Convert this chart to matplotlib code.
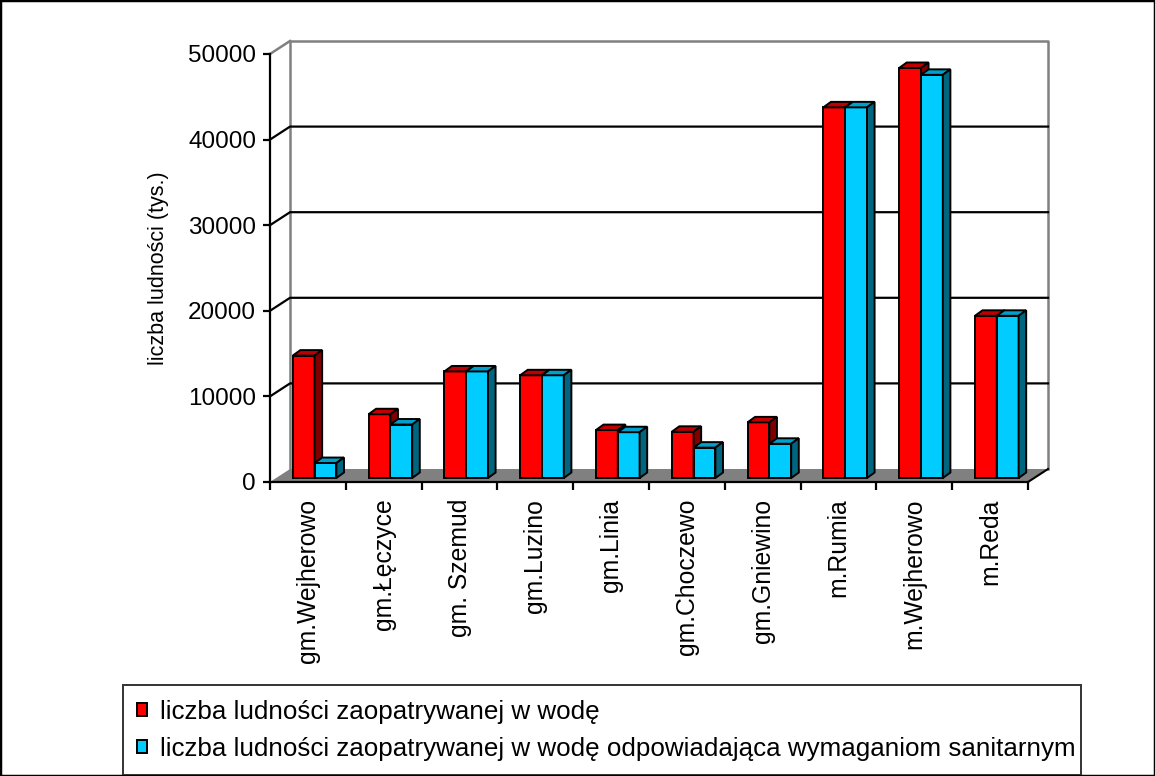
import numpy as np
import matplotlib
matplotlib.use("Agg")
import matplotlib.pyplot as plt
from matplotlib.patches import Patch, Rectangle

plt.rcParams['font.family'] = ['Liberation Sans', 'DejaVu Sans']

categories = ["gm.Wejherowo", "gm.Łęczyce", "gm. Szemud", "gm.Luzino", "gm.Linia",
              "gm.Choczewo", "gm.Gniewino", "m.Rumia", "m.Wejherowo", "m.Reda"]
supplied = [14300, 7450, 12450, 12000, 5600, 5400, 6500, 43300, 47900, 18950]
sanitary = [1750, 6250, 12450, 12000, 5350, 3550, 4000, 43300, 47100, 18950]
series_names = ["liczba ludności zaopatrywanej w wodę",
                "liczba ludności zaopatrywanej w wodę odpowiadająca wymaganiom sanitarnym"]
y_ticks = [0, 10000, 20000, 30000, 40000, 50000]
y_label = "liczba ludności (tys.)"

W, H = 1155, 776
fig = plt.figure(figsize=(W / 100, H / 100), dpi=100)
ax = fig.add_axes([270 / W, (H - 482) / H, 758 / W, 428 / H])
ax.set_xlim(0, 10)
ax.set_ylim(0, 50000)

# 3D oblique offsets (in data units)
wdx, wdy = 0.264, 1519      # wall depth
bdx, bdy = 0.10, 640        # bar depth
base = 467                  # bar plane baseline shift
bw = 0.288
boff = 0.30
gray = '#808080'

n = len(categories)
# back wall border
ax.plot([wdx, wdx, n + wdx, n + wdx], [wdy, 50000 + wdy, 50000 + wdy, wdy],
        color=gray, lw=1.8, clip_on=False, zorder=1)
ax.plot([0, wdx], [50000, 50000 + wdy], color=gray, lw=1.8, clip_on=False, zorder=1)
# gridlines on back + side wall
for v in y_ticks[1:-1]:
    ax.plot([0, wdx, n + wdx], [v, v + wdy, v + wdy], color='black', lw=1.6,
            clip_on=False, zorder=1)
# floor
ax.fill([0, n, n + wdx, wdx], [0, 0, wdy, wdy], facecolor=gray, edgecolor='none',
        clip_on=False, zorder=1.5)
ax.plot([n, n + wdx], [0, wdy], color='black', lw=1.5, clip_on=False, zorder=1.6)

colors = [('#FF0000', '#C00000', '#800000'), ('#00CCFF', '#00A0CC', '#00667F')]
for i in range(n):
    for s, vals in enumerate([supplied, sanitary]):
        x0 = i + boff + s * bw
        x1 = x0 + bw
        y0 = base
        y1 = base + vals[i]
        front, top, side = colors[s]
        kw = dict(edgecolor='black', lw=1.4, clip_on=False, joinstyle='miter')
        ax.fill([x0, x1, x1, x0], [y0, y0, y1, y1], facecolor=front, zorder=3, **kw)
        ax.fill([x0, x1, x1 + bdx, x0 + bdx], [y1, y1, y1 + bdy, y1 + bdy],
                facecolor=top, zorder=3, **kw)
        ax.fill([x1, x1 + bdx, x1 + bdx, x1], [y0, y0 + bdy, y1 + bdy, y1],
                facecolor=side, zorder=3, **kw)

for sp in ['top', 'right']:
    ax.spines[sp].set_visible(False)
for sp in ['left', 'bottom']:
    ax.spines[sp].set_linewidth(1.6)
    ax.spines[sp].set_zorder(2.5)
ax.patch.set_visible(False)

ax.set_yticks(y_ticks)
ax.set_yticklabels([str(v) for v in y_ticks], fontsize=17.5)
ax.tick_params(axis='y', direction='out', length=5, width=1.6, pad=5)
ax.set_xticks(np.arange(n + 1))
ax.set_xticklabels([])
ax.tick_params(axis='x', which='major', direction='out', length=6, width=1.6)
ax.set_xticks(np.arange(n) + 0.5, minor=True)
ax.set_xticklabels(categories, minor=True, rotation=90, fontsize=17.8)
ax.tick_params(axis='x', which='minor', length=0, pad=12)

ax.set_ylabel(y_label, fontsize=15.5)
ax.yaxis.set_label_coords(-0.133, 0.5)

handles = [Patch(facecolor=colors[0][0], edgecolor='black', lw=1.4),
           Patch(facecolor=colors[1][0], edgecolor='black', lw=1.4)]
leg = fig.legend(handles, series_names, loc='lower left',
                 bbox_to_anchor=(123 / W, 1 / H, 958 / W, 86 / H), mode='expand',
                 fontsize=18.7, frameon=True, fancybox=False, edgecolor='black',
                 handlelength=0.38, handleheight=0.42, handletextpad=0.5,
                 borderpad=0.55, labelspacing=0.5, borderaxespad=0)
leg.get_frame().set_linewidth(1.4)

fig.patches.append(Rectangle((0, 0), 1, 1, transform=fig.transFigure, fill=False,
                             edgecolor='black', lw=2.5))

fig.savefig("out.png", dpi=100)
